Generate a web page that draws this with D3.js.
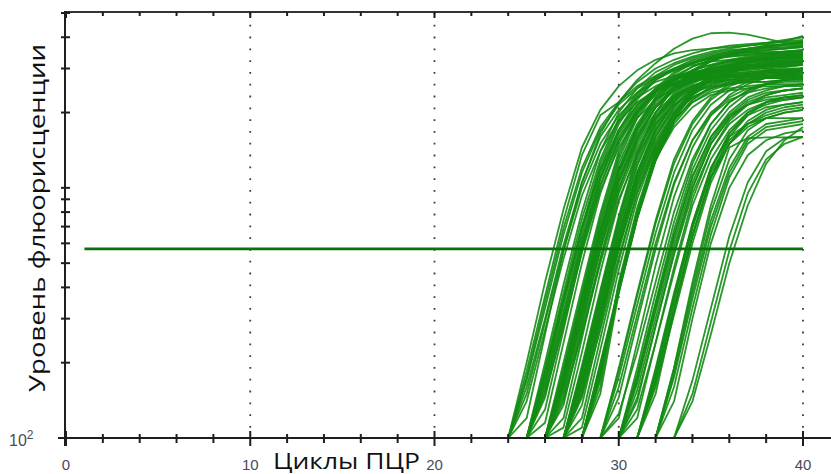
<!DOCTYPE html>
<html><head><meta charset="utf-8">
<script src="https://cdn.jsdelivr.net/npm/d3@7"></script>
<style>body{margin:0;background:#fff}svg{display:block}</style>
</head><body>
<svg id="c" width="831" height="474"></svg>
<script>
// ---- data ----
const xTickValues = [0,2,4,6,8,10,12,14,16,18,20,22,24,26,28,30,32,34,36,38,40];
const xTickLabels = [0,10,20,30,40];
const yTickValues = [100,200,300,400,500,600,700,800,900,1000,2000,3000,4000,5000];
const thresholdValue = 570;
const thresholdCycles = [1, 40];
const curveStart = [
 24,24,24,24,24,24,
 25,25,25,25,25,25,25,25,
 26,26,26,26,26,26,26,26,26,26,26,26,
 27,27,27,27,27,27,27,27,27,27,
 28,28,28,28,28,28,
 29,29,29,29,
 30,30,30,30,30,30,
 31,31,31,31,31,
 32,32,32,32,
 33,33,33,
 24,24,
 25,25,25,25,25,
 26,26,26,26,26,26,
 27,27,27,27,27,27,27,
 28,28,28,28,28,
 29,29,29,
 30,30,30,30,
 31,31,31,
 32,32
];
const curveValues = [
 [100,185,370,740,1350,1950,2200,2700,3150,3600,3950,4150,4170,4100,3950,3800,3850],
 [100,170,330,650,1150,1700,2150,2500,2750,2950,3100,3200,3250,3300,3250,3350,3400],
 [100,160,300,590,1050,1600,2050,2400,2650,2800,2900,2950,3000,3050,3000,3050,3100],
 [100,150,290,560,1000,1500,1950,2300,2550,2750,2850,2950,3050,3100,3150,3100,3150],
 [100,175,350,690,1200,1750,2200,2550,2800,3000,3150,3300,3350,3400,3450,3500,3550],
 [100,140,270,520,930,1400,1850,2200,2450,2600,2700,2750,2800,2750,2800,2850,2800],
 [100,180,360,700,1250,1850,2350,2750,3000,3200,3350,3450,3500,3450,3500,3550],
 [100,165,320,630,1100,1650,2100,2450,2700,2850,2950,3000,3050,3100,3050,3100],
 [100,155,300,580,1030,1550,2000,2350,2600,2800,2900,3000,3050,3100,3150,3200],
 [100,190,380,750,1300,1900,2400,2800,3100,3300,3450,3550,3600,3650,3600,3700],
 [100,170,340,660,1150,1700,2150,2500,2700,2850,2900,2950,2950,3000,2950,3000],
 [100,150,280,550,980,1450,1900,2250,2500,2650,2750,2800,2850,2900,2850,2900],
 [100,175,350,690,1200,1800,2300,2700,2950,3150,3300,3400,3500,3550,3600,3650],
 [100,160,310,610,1080,1600,2050,2400,2600,2750,2850,2900,2900,2950,3000,3000],
 [100,185,370,730,1300,1900,2400,2800,3050,3250,3400,3500,3550,3600,3650],
 [100,170,330,650,1150,1700,2200,2550,2800,2950,3050,3100,3150,3150,3200],
 [100,160,310,600,1080,1600,2100,2450,2700,2850,2950,3000,3050,3100,3100],
 [100,150,290,560,1000,1500,1950,2300,2550,2700,2800,2850,2900,2900,2950],
 [100,175,350,680,1200,1750,2250,2600,2850,3000,3100,3200,3250,3300,3350],
 [100,190,380,760,1350,1950,2450,2850,3150,3350,3500,3600,3700,3750,3800],
 [100,165,320,620,1100,1650,2100,2450,2650,2800,2850,2900,2950,2950,3000],
 [100,145,270,520,950,1450,1900,2250,2500,2650,2750,2800,2800,2850,2850],
 [100,180,360,700,1250,1800,2300,2700,2950,3100,3250,3350,3400,3450,3500],
 [100,155,300,580,1050,1550,2000,2350,2550,2650,2700,2700,2750,2750,2800],
 [100,170,340,660,1150,1700,2150,2500,2750,2950,3100,3200,3300,3350,3400],
 [100,140,260,500,900,1350,1800,2150,2400,2550,2600,2650,2650,2700,2700],
 [100,185,370,730,1300,1900,2400,2800,3050,3200,3300,3400,3450,3500],
 [100,170,330,650,1150,1700,2200,2550,2750,2900,3000,3050,3100,3100],
 [100,160,310,600,1080,1600,2050,2400,2600,2700,2750,2800,2800,2850],
 [100,150,290,570,1000,1500,1950,2300,2500,2650,2700,2750,2750,2800],
 [100,175,350,690,1220,1800,2300,2700,2950,3100,3200,3250,3300,3300],
 [100,190,380,750,1350,2000,2500,2900,3200,3400,3550,3650,3700,3750],
 [100,165,320,630,1120,1650,2100,2450,2650,2800,2850,2900,2900,2950],
 [100,145,270,530,950,1450,1900,2200,2400,2500,2550,2600,2600,2600],
 [100,180,360,700,1250,1850,2350,2750,3000,3150,3250,3300,3350,3400],
 [100,155,300,580,1030,1550,2000,2300,2500,2600,2650,2650,2700,2700],
 [100,190,390,770,1320,1900,2350,2700,2900,3000,3100,3150,3150],
 [100,185,380,750,1280,1850,2250,2550,2700,2800,2850,2900,2900],
 [100,200,400,780,1300,1850,2250,2500,2650,2700,2750,2750,2800],
 [100,195,390,760,1350,1950,2450,2850,3100,3250,3350,3400,3450],
 [100,180,400,790,1300,1800,2200,2450,2600,2700,2750,2750,2800],
 [100,175,410,800,1300,1750,2100,2350,2450,2500,2550,2550,2600],
 [100,175,340,660,1150,1700,2150,2450,2650,2750,2800,2800],
 [100,160,310,600,1050,1550,1950,2250,2400,2500,2550,2550],
 [100,125,220,420,800,1300,1800,2200,2450,2600,2700,2750],
 [100,185,370,720,1250,1800,2250,2550,2700,2800,2850,2900],
 [100,170,330,640,1100,1600,2000,2300,2450,2550,2600],
 [100,155,300,580,1000,1500,1900,2150,2300,2350,2400],
 [100,180,350,680,1180,1700,2100,2400,2600,2700,2750],
 [100,145,280,540,950,1400,1800,2050,2200,2250,2300],
 [100,165,320,610,1050,1550,1950,2250,2400,2450,2500],
 [100,130,240,460,850,1300,1700,2000,2150,2250,2300],
 [100,170,330,640,1100,1600,1950,2200,2300,2350],
 [100,165,330,650,1100,1500,1800,2000,2100,2150],
 [100,180,360,690,1180,1650,2000,2200,2300,2350],
 [100,175,350,700,1150,1550,1800,1950,2050,2100],
 [100,160,310,600,1050,1500,1850,2050,2150,2200],
 [100,190,400,800,1300,1700,1900,2000,2050],
 [100,175,360,700,1150,1550,1750,1800,1850],
 [100,180,380,740,1200,1600,1800,1850,1900],
 [100,190,420,850,1450,1580,1590,1590,1600],
 [100,170,330,640,1050,1400,1580,1600],
 [100,140,260,500,850,1250,1550,1750],
 [100,150,290,560,950,1300,1500,1600],
 [100,120,260,560,1050,1650,2200,2650,3000,3250,3450,3600,3700,3750,3800,3850,3900],
 [100,200,420,820,1450,2050,2550,2950,3250,3450,3550,3600,3650,3700,3750,3850,4050],
 [100,115,240,500,950,1500,2000,2400,2700,2900,3000,3100,3150,3200,3250,3300],
 [100,200,410,800,1400,2000,2500,2900,3150,3350,3500,3600,3700,3800,3900,4000],
 [100,130,270,560,1020,1550,2050,2450,2750,2950,3100,3200,3250,3300,3300,3350],
 [100,185,360,690,1180,1700,2150,2450,2650,2750,2800,2850,2850,2900,2900,2950],
 [100,145,290,590,1100,1700,2250,2700,3000,3250,3400,3500,3550,3600,3650,3700],
 [100,120,250,520,980,1550,2100,2550,2850,3050,3200,3300,3350,3400,3450],
 [100,200,400,790,1400,2000,2500,2900,3150,3300,3400,3450,3500,3500,3550],
 [100,135,280,570,1050,1600,2100,2500,2750,2900,3000,3050,3100,3150,3200],
 [100,175,345,670,1180,1750,2250,2650,2950,3200,3400,3550,3650,3750,3850],
 [100,110,220,460,880,1400,1900,2300,2550,2700,2800,2850,2900,2900,2950],
 [100,160,320,640,1150,1750,2300,2750,3050,3250,3350,3400,3450,3450,3500],
 [100,120,250,510,960,1500,2000,2400,2700,2900,3050,3150,3200,3250],
 [100,195,390,770,1380,2000,2550,2950,3250,3450,3600,3700,3750,3800],
 [100,135,280,570,1050,1600,2100,2500,2750,2900,3000,3050,3050,3100],
 [100,175,340,660,1150,1700,2150,2500,2700,2800,2850,2850,2900,2900],
 [100,110,225,470,900,1450,1950,2350,2600,2750,2850,2900,2950,3000],
 [100,160,320,640,1150,1750,2250,2650,2900,3050,3150,3200,3250,3300],
 [100,150,300,600,1100,1700,2200,2600,2850,3000,3100,3100,3150,3150],
 [100,150,380,760,1300,1900,2400,2750,2950,3050,3100,3150,3200],
 [100,195,390,760,1350,1950,2450,2800,3050,3200,3300,3350,3400],
 [100,160,400,800,1400,2000,2450,2750,2950,3050,3100,3150,3150],
 [100,185,395,780,1350,1900,2350,2700,2900,3050,3150,3200,3250],
 [100,170,420,830,1400,1950,2400,2700,2900,3000,3050,3100,3100],
 [100,120,240,490,920,1450,1950,2350,2600,2750,2850,2900],
 [100,190,380,740,1300,1850,2300,2600,2800,2900,2950,3000],
 [100,145,290,570,1030,1550,2000,2300,2500,2600,2650,2650],
 [100,120,240,480,900,1400,1850,2150,2350,2450,2500],
 [100,190,380,730,1250,1800,2200,2450,2600,2700,2750],
 [100,140,280,550,1000,1500,1900,2200,2350,2450,2500],
 [100,175,340,650,1120,1600,1950,2150,2250,2300,2300],
 [100,150,320,640,1100,1500,1750,1900,2000,2050],
 [100,190,380,720,1200,1650,1950,2100,2150,2200],
 [100,185,370,720,1200,1600,1800,1900,1900,1900],
 [100,140,300,600,1000,1350,1550,1650,1700],
 [100,160,330,650,1100,1500,1700,1750,1800]
];

// ---- chart ----
const svg = d3.select("#c");
const mLeft = 66, mRight = 803, mTop = 13, mBottom = 438;
const x = d3.scaleLinear().domain([0,40]).range([mLeft,mRight]);
const y = d3.scaleLog().domain([100,5000]).range([mBottom,mTop]).clamp(true);
const axisColor = "#1e1e1e";

// vertical dotted gridlines
svg.append("g").selectAll("line").data(xTickLabels.filter(d=>d>0)).join("line")
  .attr("x1", d=>x(d)).attr("x2", d=>x(d)).attr("y1", mTop).attr("y2", mBottom)
  .attr("stroke", "#3a3a3a").attr("stroke-width", 1.8).attr("stroke-dasharray", "1.8,10");

// clip
svg.append("clipPath").attr("id","plot").append("rect")
  .attr("x", mLeft).attr("y", mTop-2).attr("width", mRight-mLeft+1).attr("height", mBottom-mTop+2);

const line = d3.line().x(d=>x(d[0])).y(d=>y(d[1]));
const curves = curveValues.map((vals,i)=>vals.map((v,j)=>[curveStart[i]+j, v]));
svg.append("g").attr("clip-path","url(#plot)").selectAll("path").data(curves).join("path")
  .attr("d", line).attr("fill","none").attr("stroke","#138c13").attr("stroke-width",1.8)
  .attr("stroke-opacity",0.9).attr("stroke-linejoin","round");

// threshold
svg.append("line").attr("x1", x(thresholdCycles[0])).attr("x2", x(thresholdCycles[1]))
  .attr("y1", y(thresholdValue)).attr("y2", y(thresholdValue))
  .attr("stroke","#0b710b").attr("stroke-width",2.8);

// bottom axis
const gx = svg.append("g").attr("transform",`translate(0,${mBottom})`);
gx.append("line").attr("x1",58).attr("x2",831).attr("stroke",axisColor).attr("stroke-width",2);
gx.selectAll("line.t").data(xTickValues).join("line").attr("class","t")
  .attr("x1",d=>x(d)).attr("x2",d=>x(d))
  .attr("y1",d=>d%10===0?-7:-4).attr("y2",d=>d%10===0?8:5)
  .attr("stroke",axisColor).attr("stroke-width",2);
gx.selectAll("text").data(xTickLabels).join("text")
  .attr("x",d=>x(d)).attr("y",32).attr("text-anchor","middle")
  .attr("font-family","Liberation Sans, Arial, sans-serif").attr("font-size",15)
  .attr("fill","#4a4a5a").text(d=>d);

// top axis
const gt = svg.append("g").attr("transform",`translate(0,${mTop-1})`);
gt.append("line").attr("x1",mLeft-1).attr("x2",831).attr("stroke","#333").attr("stroke-width",2);
gt.selectAll("line.t").data(xTickValues).join("line").attr("class","t")
  .attr("x1",d=>x(d)).attr("x2",d=>x(d)).attr("y1",0).attr("y2",d=>d%10===0?6:4)
  .attr("stroke",axisColor).attr("stroke-width",2);

// left axis
const gy = svg.append("g").attr("transform",`translate(${mLeft-1},0)`);
gy.append("line").attr("y1",mTop-2).attr("y2",mBottom+8).attr("stroke",axisColor).attr("stroke-width",2);
gy.selectAll("line.t").data(yTickValues).join("line").attr("class","t")
  .attr("y1",d=>y(d)).attr("y2",d=>y(d)).attr("x1",-4).attr("x2",5)
  .attr("stroke",axisColor).attr("stroke-width",2);
const lab = svg.append("text").attr("x",9).attr("y",446)
  .attr("font-family","Liberation Sans, Arial, sans-serif").attr("font-size",16).attr("fill","#4a4a5a");
lab.append("tspan").text("10");
lab.append("tspan").attr("dy",-7).attr("font-size",12).text("2");

// axis titles
svg.append("text").attr("x",273).attr("y",469)
  .attr("font-family","Open Sans, sans-serif").attr("font-size",21).attr("fill","#111")
  .attr("textLength",147).attr("lengthAdjust","spacingAndGlyphs")
  .text("Циклы ПЦР");
svg.append("text").attr("transform","translate(45,392) rotate(-90)")
  .attr("font-family","Open Sans, sans-serif").attr("font-size",21).attr("fill","#111")
  .attr("textLength",348).attr("lengthAdjust","spacingAndGlyphs")
  .text("Уровень флюорисценции");
</script>
</body></html>
